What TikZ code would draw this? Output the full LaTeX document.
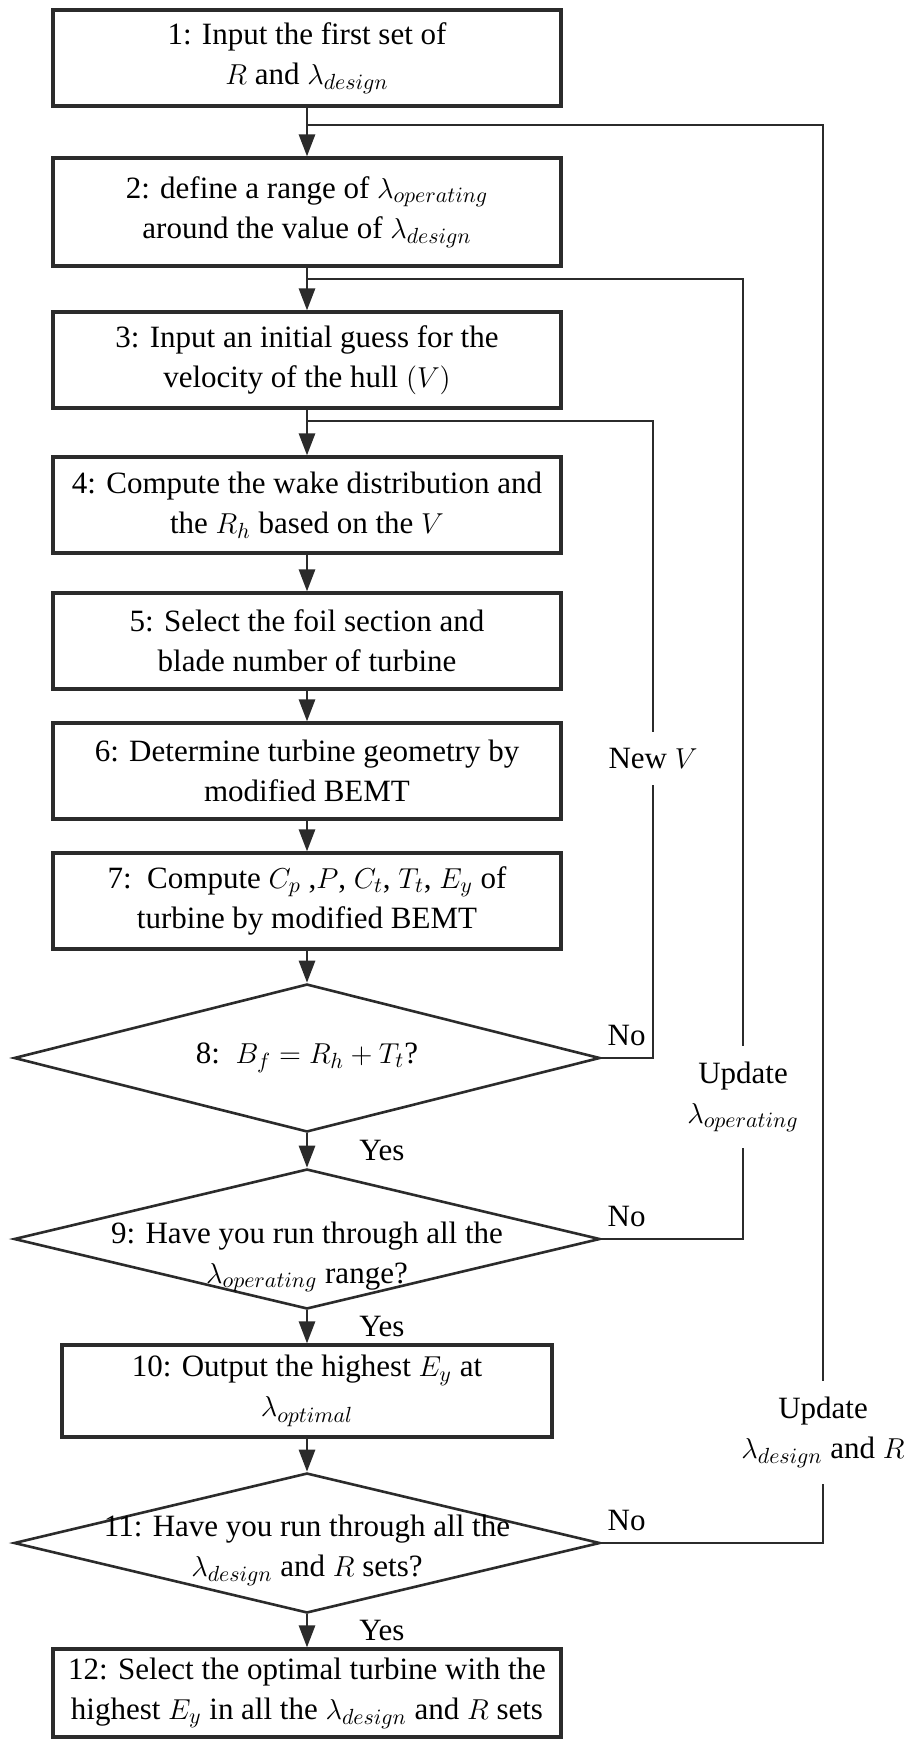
\documentclass[tikz,border=0pt]{standalone}
\usepackage{fontspec}
\setmainfont{Liberation Serif}
\usetikzlibrary{arrows.meta,positioning,shapes.geometric,calc}
\definecolor{linecol}{HTML}{2B2B2B}

\tikzset{
  procbox/.style={draw=linecol, line width=1.6pt, minimum width=254pt, minimum height=48pt,
    inner sep=1pt, align=center, font=\fontsize{15.5}{20}\selectfont},
  decision/.style={diamond, draw=linecol, line width=1.3pt, minimum width=293pt,
    minimum height=74pt, inner sep=0pt},
  flow/.style={draw=linecol, line width=1.4pt, -{Triangle[length=11pt,width=8pt]}},
  loopline/.style={draw=linecol, line width=1.1pt},
  lbl/.style={font=\fontsize{15.5}{20}\selectfont, align=center, inner sep=1pt},
  gaplbl/.style={lbl, fill=white, inner xsep=1pt, inner ysep=8pt},
}

\begin{document}
\begin{tikzpicture}[x=0.5pt,y=-0.5pt]
    \fill[white] (0,0) rectangle (916,1743);
    \useasboundingbox (0,0) rectangle (916,1743);

    % Process steps
    \node[procbox] (b1) at (307,58) {1: Input the first set of\\$R$ and $\lambda_{design}$};
    \node[procbox, minimum height=54pt] (b2) at (307,212) {2: define a range of $\lambda_{operating}$\\around the value of $\lambda_{design}$};
    \node[procbox] (b3) at (307,360) {3: Input an initial guess for the\\velocity of the hull $(V)$};
    \node[procbox] (b4) at (307,505) {4: Compute the wake distribution and\\the $R_h$ based on the $V$};
    \node[procbox] (b5) at (307,641) {5: Select the foil section and\\blade number of turbine};
    \node[procbox] (b6) at (307,771) {6: Determine turbine geometry by\\modified BEMT};
    \node[procbox] (b7) at (307,901) {7:\ \ Compute $C_p$ ,$P$, $C_t$, $T_t$, $E_y$ of\\turbine by modified BEMT};

    % Checks
    \node[decision, minimum height=74pt] (d8) at (307,1058) {};
    \node[lbl] (t8) at (d8) {8:\ \ $B_f = R_h + T_t$?};
    \node[decision, minimum height=70pt] (d9) at (307,1239) {};
    \node[lbl] (t9) at (307,1257) {9: Have you run through all the\\$\lambda_{operating}$ range?};

    \node[procbox, minimum width=245pt, minimum height=46pt] (b10) at (307,1391) {10: Output the highest $E_y$ at\\$\lambda_{optimal}$};

    \node[decision, minimum height=70pt] (d11) at (307,1543) {};
    \node[lbl] (t11) at (307,1550) {11: Have you run through all the\\$\lambda_{design}$ and $R$ sets?};

    \node[procbox, minimum height=44pt] (b12) at (307,1693) {12: Select the optimal turbine with the\\highest $E_y$ in all the $\lambda_{design}$ and $R$ sets};

    % Loop corners
    \coordinate (j1) at (307,125);
    \coordinate (j2) at (307,279);
    \coordinate (j3) at (307,421);
    \coordinate (c1) at (653,421);
    \coordinate (c2) at (743,279);
    \coordinate (c3) at (823,125);

    % Loops back
    \draw[loopline] (d8.east) -- (d8.east -| c1) -- node[gaplbl, pos=0.47] (nv) {New $V$} (c1) -- (j3);
    \draw[loopline] (d9.east) -- (d9.east -| c2) -- node[gaplbl, pos=0.148] (uo) {Update\\$\lambda_{operating}$} (c2) -- (j2);
    \draw[loopline] (d11.east) -- (d11.east -| c3) -- node[gaplbl, pos=0.078] (ud) {Update\\$\lambda_{design}$ and $R$} (c3) -- (j1);

    % Main flow
    \foreach \a/\b in {b1/b2, b2/b3, b3/b4, b4/b5, b5/b6, b6/b7, b7/d8, d8/d9, d9/b10, b10/d11, d11/b12}
        \draw[flow] (\a.south) -- (\b.north);

    % Branch labels
    \node[lbl, above right=5pt and 2pt of d8.east] (no8) {No};
    \node[lbl, above right=5pt and 2pt of d9.east] (no9) {No};
    \node[lbl, above right=5pt and 2pt of d11.east] (no11) {No};
    \node[lbl, anchor=west, xshift=25pt] (yes8) at ($(d8.south)!.5!(d9.north)$) {Yes};
    \node[lbl, anchor=west, xshift=25pt] (yes9) at ($(d9.south)!.5!(b10.north)$) {Yes};
    \node[lbl, anchor=west, xshift=25pt] (yes11) at ($(d11.south)!.5!(b12.north)$) {Yes};
\end{tikzpicture}
\end{document}
